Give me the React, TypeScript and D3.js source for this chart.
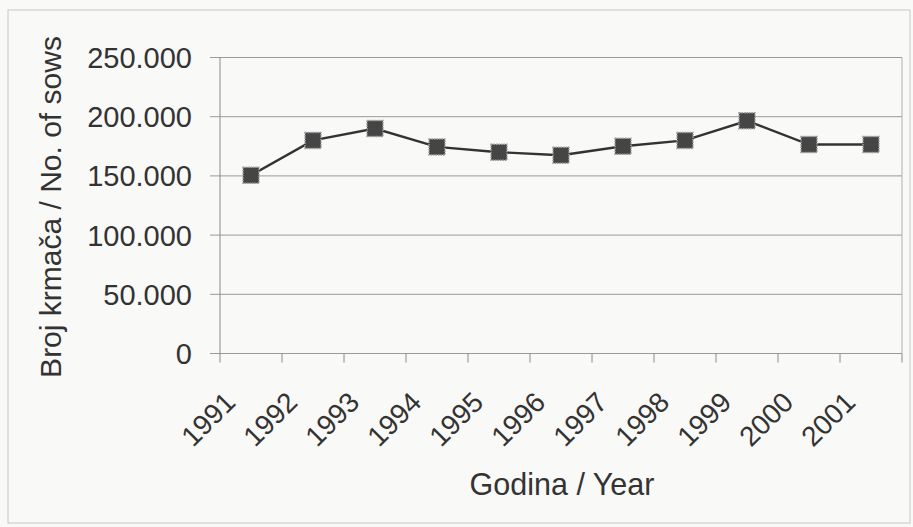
import { useMemo } from "react"
import * as d3 from "d3"

const years = ["1991", "1992", "1993", "1994", "1995", "1996", "1997", "1998", "1999", "2000", "2001"]
const sows = [150500, 180000, 190000, 174500, 170000, 167500, 175000, 180000, 196500, 176500, 176500]
const yTicks = [0, 50000, 100000, 150000, 200000, 250000]

const W = 913
const H = 527
const left = 220
const right = 902
const top = 57.5
const bottom = 353.5

const fmt = (v: number) => (v === 0 ? "0" : d3.format(",")(v).replace(/,/g, "."))

const App = () => {
  const x = useMemo(() => d3.scaleBand().domain(years).range([left, right]), [])
  const y = useMemo(() => d3.scaleLinear().domain([0, 250000]).range([bottom, top]), [])

  const line = d3
    .line<number>()
    .x((_, i) => (x(years[i]) as number) + x.bandwidth() / 2)
    .y(d => y(d))

  const font = "Arial, 'Liberation Sans', sans-serif"
  const ink = "#333"

  return (
    <svg
      width={W}
      height={H}
      style={{ position: "fixed", left: 0, top: 0, background: "#f9f9f7" }}
      fontFamily={font}
    >
      {/* chart border */}
      <rect x={8} y={10} width={902} height={513} fill="none" stroke="#c8c8c8" strokeWidth={1} />

      {/* gridlines + y ticks */}
      {yTicks.map(t => (
        <g key={t}>
          <line x1={left - 10} x2={right} y1={y(t)} y2={y(t)} stroke="#9a9a9a" strokeWidth={1} />
          <text x={192} y={y(t) + 10.5} textAnchor="end" fontSize={29} fill={ink}>
            {fmt(t)}
          </text>
        </g>
      ))}

      {/* plot border */}
      <line x1={left} x2={left} y1={top} y2={bottom} stroke="#8a8a8a" />
      <line x1={right} x2={right} y1={top} y2={bottom} stroke="#b0b0b0" />

      {/* x ticks */}
      {[...years, "end"].map((yr, i) => {
        const xp = left + i * x.step()
        return <line key={yr} x1={xp} x2={xp} y1={bottom} y2={bottom + 9} stroke="#8a8a8a" />
      })}

      {years.map(yr => {
        const cx = (x(yr) as number) + x.bandwidth() / 2
        return (
          <text
            key={yr}
            transform={`translate(${cx - 14}, 404) rotate(-45)`}
            textAnchor="end"
            fontSize={28}
            fill={ink}
          >
            {yr}
          </text>
        )
      })}

      {/* series */}
      <path d={line(sows) ?? ""} fill="none" stroke="#333" strokeWidth={2.4} />
      {sows.map((v, i) => {
        const cx = (x(years[i]) as number) + x.bandwidth() / 2
        return (
          <rect
            key={years[i]}
            x={cx - 8}
            y={y(v) - 8}
            width={16}
            height={16}
            fill="#454545"
            stroke="#a0a0a0"
            strokeWidth={1.5}
            strokeDasharray="1.5 1"
          />
        )
      })}

      {/* axis titles */}
      <text x={562} y={495} textAnchor="middle" fontSize={30.5} fill={ink}>
        Godina / Year
      </text>
      <text transform={`translate(61, 207) rotate(-90)`} textAnchor="middle" fontSize={30} fill={ink}>
        Broj krmača / No. of sows
      </text>
    </svg>
  )
}

export default App
